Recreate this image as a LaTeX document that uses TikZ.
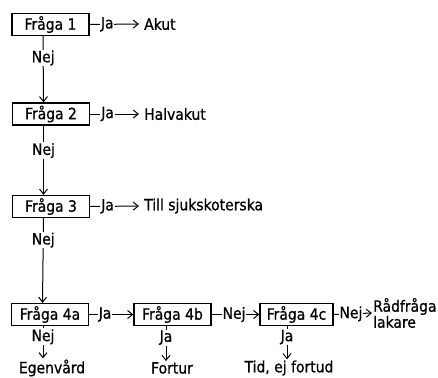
\documentclass[tikz,border=0pt]{standalone}
\usepackage{fontspec}
\setmainfont{DejaVu Sans Condensed}[FakeBold=0.8]
\usetikzlibrary{arrows.meta}

\tikzset{
  fraga/.style={draw, line width=1.3pt, minimum width=77pt, minimum height=22pt, inner sep=0pt},
  svar/.style={inner sep=1pt},
  pil/.style={-{Straight Barb[length=5pt,width=8pt]}, line width=1pt},
  etikett/.style={fill=white, inner sep=0.8pt},
}

\begin{document}
\begin{tikzpicture}[x=1pt, y=-1pt, font=\fontsize{15.5}{17}\selectfont]
  \useasboundingbox (0,0) rectangle (438,377);

  % fragorna
  \node[fraga] (f1) at (50.5,24.5) {Fråga 1};
  \node[fraga] (f2) at (51,114) {Fråga 2};
  \node[fraga] (f3) at (51,206.5) {Fråga 3};
  \node[fraga] (f4a) at (50,314.5) {Fråga 4a};
  \node[fraga] (f4b) at (172.5,314.5) {Fråga 4b};
  \node[fraga, minimum width=73pt] (f4c) at (296.5,314.5) {Fråga 4c};

  % utfall till hoger
  \node[svar, anchor=west] (akut) at (143,24) {Akut};
  \node[svar, anchor=west] (halv) at (143,114) {Halvakut};
  \node[svar, anchor=west] (sjuk) at (143,206) {Till sjukskoterska};
  \node[svar, anchor=west, align=left, font=\fontsize{15.5}{12.5}\selectfont] (rad) at (372,313) {Rådfråga\\lakare};

  % utfall nedtill
  \node[svar] (egen) at (52,368) {Egenvård};
  \node[svar] (fortur) at (172,368) {Fortur};
  \node[svar] (tid) at (289,368) {Tid, ej fortud};

  % Ja-pilar
  \draw[pil, shorten >=4pt] (f1.east) -- node[etikett, pos=0.33] {Ja} (akut.west);
  \draw[pil, shorten >=4pt] (f2.east) -- node[etikett, pos=0.33] {Ja} (halv.west);
  \draw[pil, shorten >=4pt] (f3.east) -- node[etikett, pos=0.33] {Ja} (sjuk.west);
  \draw[pil] (f4a.east) -- node[etikett, pos=0.36] {Ja} (f4b.west);
  \draw[pil] (f4b.east) -- node[etikett, pos=0.47] {Nej} (f4c.west);
  \draw[pil] (f4c.east) -- node[etikett, pos=0.45] {Nej} (rad.west);

  % Nej-pilar nedat
  \draw[pil] ([xshift=-7.5pt]f1.south) -- node[etikett, pos=0.33] {Nej} ([xshift=-7.5pt]f2.north);
  \draw[pil] ([xshift=-7.5pt]f2.south) -- node[etikett, pos=0.36] {Nej} ([xshift=-7.5pt]f3.north);
  \draw[pil] ([xshift=-7.5pt]f3.south) -- node[etikett, pos=0.26] {Nej} ([xshift=-7.5pt]f4a.north);

  % sista raden
  \draw[pil] ([xshift=-7pt]f4a.south) -- node[etikett, pos=0.33] {Nej} ([xshift=-7pt]f4a.south |- egen.north);
  \draw[pil] ([xshift=-6.5pt]f4b.south) -- node[etikett, pos=0.33] {Ja} ([xshift=-6.5pt]f4b.south |- fortur.north);
  \draw[pil] ([xshift=-9.5pt]f4c.south) -- node[etikett, pos=0.33] {Ja} ([xshift=-9.5pt]f4c.south |- tid.north);
\end{tikzpicture}
\end{document}
